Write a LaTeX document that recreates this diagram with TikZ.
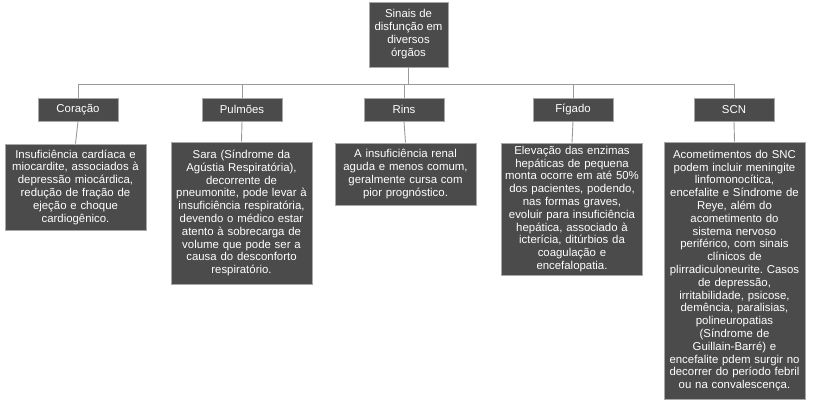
\documentclass[tikz,border=0pt]{standalone}
\usepackage{fontspec}
\setmainfont{Liberation Sans}
\frenchspacing
\definecolor{boxfill}{HTML}{4B4B4B}
\definecolor{boxline}{HTML}{A8A8A8}
\definecolor{connc}{HTML}{9A9A9A}
\begin{document}
\begin{tikzpicture}[x=1pt,y=-1pt,
  box/.style={draw=boxline, fill=boxfill, text=white, align=center, inner sep=0pt,
    font=\fontsize{11.4}{12.8}\selectfont, line width=0.8pt},
  lvl/.style={box, minimum width=80pt, minimum height=23pt},
  detail/.style={box, text width=141pt},
  conn/.style={draw=connc, line width=0.9pt}]
\useasboundingbox (0,0) rectangle (813,407);
\node[box, minimum width=79pt, minimum height=65pt, font=\fontsize{11.4}{13}\selectfont] (root) at (408.5,34.5) {Sinais de\\disfunção em\\diversos\\órgãos};
\node[lvl] (c1) at (78,109.5) {Coração};
\node[lvl] (p1) at (242,109.5) {Pulmões};
\node[lvl] (r1) at (404,109.5) {Rins};
\node[lvl] (f1) at (573,109.5) {Fígado};
\node[lvl] (s1) at (734,109.5) {SCN};
\node[detail, minimum height=86pt] (c2) at (75.5,187) {Insuficiência cardíaca e\\miocardite, associados à\\depressão miocárdica,\\redução de fração de\\ejeção e choque\\cardiogênico.};
\node[detail, minimum height=142pt] (p2) at (241.5,213) {Sara (Síndrome da\\Agústia Respiratória),\\decorrente de\\pneumonite, pode levar à\\insuficiência respiratória,\\devendo o médico estar\\atento à sobrecarga de\\volume que pode ser a\\causa do desconforto\\respiratório.};
\node[detail, minimum height=62pt] (r2) at (405.5,174) {A insuficiência renal\\aguda e menos comum,\\geralmente cursa com\\pior prognóstico.};
\node[detail, minimum height=132pt] (f2) at (572,209) {Elevação das enzimas\\hepáticas de pequena\\monta ocorre em até 50\%\\dos pacientes, podendo,\\nas formas graves,\\evoluir para insuficiência\\hepática, associado à\\icterícia, ditúrbios da\\coagulação e\\encefalopatia.};
\node[detail, minimum height=257pt] (s2) at (734.5,270.5) {Acometimentos do SNC\\podem incluir meningite\\linfomonocítica,\\encefalite e Síndrome de\\Reye, além do\\acometimento do\\sistema nervoso\\periférico, com sinais\\clínicos de\\plirradiculoneurite. Casos\\de depressão,\\irritabilidade, psicose,\\demência, paralisias,\\polineuropatias\\(Síndrome de\\Guillain-Barré) e\\encefalite pdem surgir no\\decorrer do período febril\\ou na convalescença.};
\coordinate (bus) at (0,84);
\draw[conn] (root.south) -- (root.south |- bus);
\draw[conn] (c1.north |- bus) -- (s1.north |- bus);
\foreach \n in {c,p,r,f,s}{
  \draw[conn] (\n1.north) -- (\n1.north |- bus);
  \draw[conn] (\n1.south) -- (\n2.north);
}
\end{tikzpicture}
\end{document}
